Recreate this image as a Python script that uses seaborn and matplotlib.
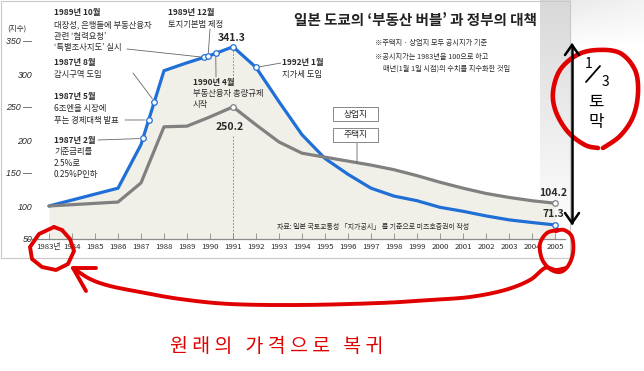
import numpy as np
import pandas as pd
import seaborn as sns
import matplotlib
matplotlib.use('Agg')
import matplotlib.pyplot as plt
from matplotlib.patches import Rectangle

# ---------------- data ----------------
years = list(range(1983, 2006))
year_labels = ['1983년'] + [str(y) for y in range(1984, 2006)]
commercial = [100, 109, 118, 127, 193, 305, 317, 328, 341.3, 310, 258, 208, 172,
              148, 127, 115, 108, 98, 92, 85, 79, 75, 71.3]
residential = [100, 102, 104, 106, 135, 220, 221, 235, 250.2, 223, 197, 180, 174,
               168, 162, 155, 146, 136, 127, 119, 113, 108, 104.2]
series_names = ['상업지', '주택지']
yticks = [50, 100, 150, 200, 250, 300, 350]
ytick_labels = ['50', '100', '150 —', '200', '250 —', '300', '350 —']
event_dates = [1987 + 1/12, 1987 + 4/12, 1987 + 7/12, 1989 + 9/12,
               1989 + 11/12, 1990 + 3/12, 1992.0]
event_titles = ['1987년 2월', '1987년 5월', '1987년 8월', '1989년 10월',
                '1989년 12월', '1990년 4월', '1992년 1월']
event_bodies = [['기준금리를', '2.5%로', '0.25%P인하'],
                ['6조엔을 시장에', '푸는 경제대책 발표'],
                ['감시구역 도입'],
                ['대장성, 은행들에 부동산융자', '관련 ‘협력요청’', '‘특별조사지도’ 실시'],
                ['토지기본법 제정'],
                ['부동산융자 총량규제', '시작'],
                ['지가세 도입']]

BLUE = '#1f6fd6'
GRAY = '#808080'
RED = '#e00000'
FILL = '#f1f0e8'
TXT = '#2a2a2a'

sns.set_theme(style='white')
plt.rcParams['font.family'] = ['Noto Sans CJK KR', 'DejaVu Sans']
NARROW = ['Liberation Sans Narrow', 'Noto Sans CJK KR', 'DejaVu Sans']
NARROW_LAT = ['Liberation Sans Narrow', 'Liberation Sans', 'DejaVu Sans']

W, H = 644, 371
fig = plt.figure(figsize=(W / 100, H / 100), dpi=100)
fig.patch.set_facecolor('white')

# background axes in pixel coordinates
bg = fig.add_axes([0, 0, 1, 1], zorder=0)
bg.set_xlim(0, W); bg.set_ylim(H, 0); bg.axis('off')

# light grey wash on the right edge of the original graphic
a1 = np.linspace(0.75, 0.0, 120)[:, None] * np.ones((1, 8))
img1 = np.zeros((120, 8, 4)); img1[..., :3] = 0.80; img1[..., 3] = a1
bg.imshow(img1, extent=(540, 571, 240, 0), aspect='auto', zorder=0, interpolation='bilinear')
a2 = np.linspace(0.45, 0.0, 40)[:, None] * np.linspace(1.0, 0.6, 30)[None, :]
img2 = np.zeros((40, 30, 4)); img2[..., :3] = 0.82; img2[..., 3] = a2
bg.imshow(img2, extent=(571, 644, 48, 0), aspect='auto', zorder=0, interpolation='bilinear')
bg.add_patch(Rectangle((0.5, 0.5), 570, 257, fill=False, ec='#c8c8c8', lw=0.8, zorder=1))

# main data axes
x0 = 1983 - 21 / 23
x1 = 1983 + 516 / 23
ytop = 50 + 239 / 0.66
ax = fig.add_axes([28 / W, (H - 239) / H, (565 - 28) / W, 239 / H], zorder=1)
ax.set_facecolor('none')

df = pd.DataFrame({
    'year': years * 2,
    'value': commercial + residential,
    'series': [series_names[0]] * len(years) + [series_names[1]] * len(years),
})
ax.fill_between(years, 50, np.maximum(commercial, residential), color=FILL, lw=0, zorder=0)
sns.lineplot(data=df, x='year', y='value', hue='series',
             palette={series_names[0]: BLUE, series_names[1]: GRAY},
             linewidth=2.3, legend=False, ax=ax, zorder=3)

ax.set_xlim(x0, x1)
ax.set_ylim(50, ytop)
for s in ['top', 'right', 'left']:
    ax.spines[s].set_visible(False)
ax.spines['bottom'].set_color('#8a8a8a')
ax.spines['bottom'].set_linewidth(0.9)
ax.set_xticks(years)
ax.set_xticklabels(year_labels, fontsize=5.6, color=TXT, family=NARROW)
ax.tick_params(axis='x', direction='in', length=4, width=0.6, color='#8a8a8a', pad=3, bottom=True)
ax.set_yticks(yticks)
ax.set_yticklabels(ytick_labels, fontsize=6.4, color=TXT, family=NARROW_LAT, style='italic')
ax.tick_params(axis='y', length=0, pad=-3, left=True)
ax.set_xlabel(''); ax.set_ylabel('')
ax.grid(False)

# dashed reference at the 1991 peak
peak_i = years.index(1991)
ax.plot([1991, 1991], [commercial[peak_i], 50 + (239 - 78) / 0.66], ls=(0, (2, 2)),
        color='#777', lw=0.6, zorder=2)
ax.plot([1991, 1991], [50 + (239 - 136) / 0.66, 50], ls=(0, (2, 2)),
        color='#777', lw=0.6, zorder=2)

# markers
ev_vals = np.interp(event_dates, years, commercial)
ax.plot(event_dates, ev_vals, 'o', mfc='white', mec=BLUE, ms=4, mew=0.9, zorder=5)
ax.plot([1991, 2005], [commercial[peak_i], commercial[-1]], 'o', mfc='white', mec=BLUE,
        ms=4, mew=0.9, zorder=5)
ax.plot([1991, 2005], [residential[peak_i], residential[-1]], 'o', mfc='white', mec=GRAY,
        ms=4, mew=0.9, zorder=5)

# text layer above the data axes (pixel coords)
tx = fig.add_axes([0, 0, 1, 1], zorder=2)
tx.set_xlim(0, W); tx.set_ylim(H, 0); tx.axis('off'); tx.set_facecolor('none')

def T(x, y, s, size=6, weight='normal', ha='left', color=TXT, fam=None, **kw):
    tx.text(x, y, s, fontsize=size, fontweight=weight, ha=ha, va='center',
            color=color, family=fam if fam else plt.rcParams['font.family'],
            zorder=6, **kw)

T(415, 20, '일본 도쿄의 ‘부동산 버블’ 과 정부의 대책', size=10.5, weight='bold', ha='center', color='#222')
T(375, 43, '※주택지 · 상업지 모두 공시지가 기준', size=5.2)
T(375, 57, '※공시지가는 1983년을 100으로 하고', size=5.2)
T(383, 69, '매년(1월 1일 시점)의 수치를 지수화한 것임', size=5.2)
T(7, 29, '(지수)', size=5.5)

# event label positions: (x, y of title)
ev_pos = [(54, 140), (54, 97), (54, 63), (54, 13), (168, 13), (193, 82), (282, 63)]
line_gap = 11.5
for (px, py), title, body in zip(ev_pos, event_titles, event_bodies):
    T(px, py, title, size=6, weight='bold')
    for k, ln in enumerate(body):
        T(px, py + line_gap * (k + 1), ln, size=6)

# leader lines from text to markers
leader_from = [(98, 140), (125, 120), (133, 73), (127, 49), (210, 29), (216, 77), (281, 63)]
for (lx, ly), d, v in zip(leader_from, event_dates, ev_vals):
    ax.annotate('', xy=(d, v), xycoords='data', xytext=(lx, ly), textcoords=tx.transData,
                arrowprops=dict(arrowstyle='-', color='#666', lw=0.6, shrinkA=0, shrinkB=2.5),
                zorder=4)

T(232, 38, '341.3', size=7.5, weight='bold', ha='center', fam=NARROW)
T(230, 127, '250.2', size=7.5, weight='bold', ha='center', fam=NARROW)
T(553, 193, '104.2', size=7.5, weight='bold', ha='center', fam=NARROW)
T(553, 214, '71.3', size=7.5, weight='bold', ha='center', fam=NARROW)

# series label boxes
for (by, name) in [(107, series_names[0]), (128, series_names[1])]:
    tx.add_patch(Rectangle((333, by), 45, 14, fc='white', ec='#888', lw=0.7, zorder=5))
    T(355.5, by + 7, name, size=6.3, ha='center')
leg_x = 1983 + (357 - 49) / 23
ax.annotate('', xy=(leg_x, np.interp(leg_x, years, residential)), xycoords='data',
            xytext=(357, 142), textcoords=tx.transData,
            arrowprops=dict(arrowstyle='-', color='#666', lw=0.6, shrinkA=0, shrinkB=0))

T(277, 227, '자료: 일본 국토교통성 「지가공시」 를 기준으로 미즈호증권이 작성', size=5)

# ---------------- hand-drawn overlay ----------------
fr = fig.add_axes([0, 0, 1, 1], zorder=5)
fr.set_xlim(0, W); fr.set_ylim(H, 0); fr.axis('off'); fr.set_facecolor('none')

def smooth(pts, n=12, closed=False):
    p = np.array(pts, dtype=float)
    if closed:
        p = np.vstack([p[-1], p, p[0], p[1]])
    else:
        p = np.vstack([p[0], p, p[-1]])
    out = []
    for i in range(1, len(p) - 2):
        p0, p1, p2, p3 = p[i - 1], p[i], p[i + 1], p[i + 2]
        for t in np.linspace(0, 1, n, endpoint=False):
            t2, t3 = t * t, t * t * t
            out.append(0.5 * ((2 * p1) + (-p0 + p2) * t + (2 * p0 - 5 * p1 + 4 * p2 - p3) * t2
                              + (-p0 + 3 * p1 - 3 * p2 + p3) * t3))
    out.append(p[-2])
    return np.array(out)

def red(pts, lw=2.8, closed=False, sm=True):
    a = smooth(pts, closed=closed) if sm else np.array(pts, dtype=float)
    fr.plot(a[:, 0], a[:, 1], color=RED, lw=lw, solid_capstyle='round',
            solid_joinstyle='round')

red([(54, 227), (39, 234), (30, 247), (32, 259), (42, 267), (56, 270), (68, 264),
     (74, 251), (70, 239), (62, 230)], closed=True, sm=False)
fr.plot([54, 62], [227, 230], color=RED, lw=2.8)
red([(558, 230), (547, 233), (540, 244), (542, 259), (550, 269), (560, 272),
     (568, 266), (573, 253), (572, 237), (564, 230), (556, 231)], sm=True)
red([(566, 268), (556, 270), (545, 268), (530, 280), (505, 290), (470, 297), (430, 300),
     (380, 303), (300, 305), (230, 304), (180, 299), (140, 292), (110, 286),
     (90, 279), (73, 268)])
fr.plot([96, 73, 86], [268, 268, 291], color=RED, lw=2.8, solid_capstyle='round',
        solid_joinstyle='round')

# 1/3 loop
red([(598, 148), (585, 145), (568, 132), (556, 112), (553, 92), (560, 70), (577, 55),
     (597, 50), (620, 53), (635, 70), (638, 93), (633, 117), (620, 136), (603, 148)],
    lw=3.3)

# black double arrow
fr.plot([572, 572], [45, 223], color='black', lw=1.8)
fr.plot([565, 572, 579], [55, 45, 55], color='black', lw=1.8, solid_joinstyle='miter')
fr.plot([565, 572, 579], [213, 223, 213], color='black', lw=1.8, solid_joinstyle='miter')

fr.text(589, 64, '1', fontsize=10, ha='center', va='center', color='black')
fr.plot([586, 600], [82, 66], color='black', lw=1.3)
fr.text(605, 82, '3', fontsize=10, ha='center', va='center', color='black')
fr.text(596, 102, '토', fontsize=12, ha='center', va='center', color='black')
fr.text(596, 123, '막', fontsize=12, ha='center', va='center', color='black')

fr.text(277, 347, '원 래 의   가 격 으 로   복 귀', fontsize=14, ha='center', va='center',
        color=RED)

fig.savefig('out.png', dpi=100, facecolor='white')
